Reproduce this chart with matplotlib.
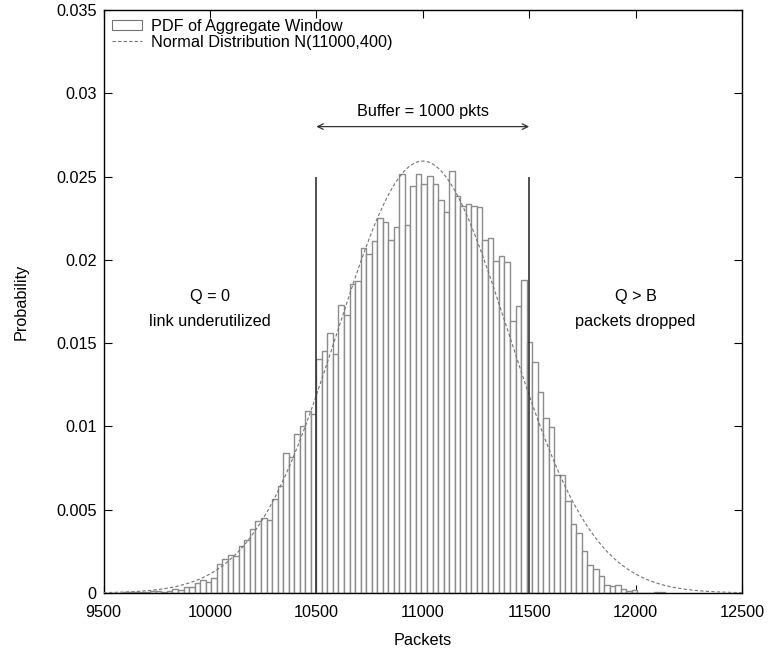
import numpy as np
import matplotlib
matplotlib.use("Agg")
import matplotlib.pyplot as plt
from matplotlib.patches import Patch
from matplotlib.lines import Line2D

plt.rcParams["font.family"] = ["Liberation Sans", "DejaVu Sans"]

# histogram of aggregate window (bins of 26 packets, first bin starts at 9538)
bin_start = 9538
bin_width = 26
prob = [
    0.00002, 0.00002, 0.00003, 0.00004, 0.00004, 0.00006, 0.00006, 0.00014,
    0.00012, 0.00008, 0.00012, 0.00022, 0.00018, 0.00034, 0.00038, 0.00062,
    0.00080, 0.00068, 0.00089, 0.00171, 0.00203, 0.00229, 0.00225, 0.00285,
    0.00319, 0.00383, 0.00430, 0.00452, 0.00440, 0.00562, 0.00642, 0.00842,
    0.00817, 0.00956, 0.01002, 0.01092, 0.01077,
    0.01404, 0.01454, 0.01558, 0.01434, 0.01731, 0.01671, 0.01855, 0.01871,
    0.02072, 0.02034, 0.02116, 0.02251, 0.02227, 0.02122, 0.02195, 0.02516,
    0.02207, 0.02442, 0.02516, 0.02458, 0.02504, 0.02454, 0.02361, 0.02287,
    0.02534, 0.02381, 0.02323, 0.02335, 0.02323, 0.02315, 0.02122, 0.02133,
    0.01996, 0.02026, 0.01990, 0.01634, 0.01725, 0.01880, 0.01508, 0.01384,
    0.01207, 0.01052, 0.00996, 0.00711, 0.00711, 0.00554, 0.00414, 0.00363,
    0.00253, 0.00169, 0.00143, 0.00100, 0.00050, 0.00040, 0.00050, 0.00026,
    0.00010, 0.00016, 0.0, 0.0, 0.0, 0.00005, 0.00003,
]

# normal distribution from the legend
mu = 11000
sigma = 400

buffer_lo = 10500
buffer_hi = 11500

fs = 11.7

left = bin_start + bin_width * np.arange(len(prob))

fig = plt.figure(figsize=(7.69, 6.54), dpi=100)
ax = fig.add_axes([0.1346, 0.0933, 0.8303, 0.8914])

ax.bar(left, prob, width=bin_width, align="edge", facecolor="white",
       edgecolor="0.55", linewidth=1.0, zorder=2)

xs = np.linspace(9500, 12500, 600)
pdf = bin_width * np.exp(-0.5 * ((xs - mu) / sigma) ** 2) / (sigma * np.sqrt(2 * np.pi))
ax.plot(xs, pdf, color="0.45", linestyle=(0, (3, 2)), linewidth=0.8, zorder=3)

# buffer limits
ax.vlines([buffer_lo, buffer_hi], 0, 0.025, color="0.2", linewidth=1.2, zorder=4)
ax.annotate("", xy=(buffer_lo, 0.028), xytext=(buffer_hi, 0.028),
            arrowprops=dict(arrowstyle="<->", color="0.2", lw=0.9,
                            shrinkA=0, shrinkB=0))
ax.text(11000, 0.0289, "Buffer = 1000 pkts", ha="center", va="center", fontsize=fs)

ax.text(10000, 0.0178, "Q = 0", ha="center", va="center", fontsize=fs)
ax.text(10000, 0.0163, "link underutilized", ha="center", va="center", fontsize=fs)
ax.text(12000, 0.0178, "Q > B", ha="center", va="center", fontsize=fs)
ax.text(12000, 0.0163, "packets dropped", ha="center", va="center", fontsize=fs)

ax.set_xlim(9500, 12500)
ax.set_ylim(0, 0.035)
ax.set_xticks(np.arange(9500, 12501, 500))
ax.set_yticks(np.arange(0, 0.0351, 0.005))
ax.set_yticklabels(["0", "0.005", "0.01", "0.015", "0.02", "0.025", "0.03", "0.035"])
ax.tick_params(axis="both", direction="in", length=6, width=0.8, top=True,
               right=True, labelsize=fs)
ax.tick_params(axis="x", pad=9)
ax.tick_params(axis="y", pad=5)
for s in ax.spines.values():
    s.set_linewidth(1.0)

ax.set_xlabel("Packets", fontsize=fs, labelpad=9)
ax.set_ylabel("Probability", fontsize=fs, labelpad=20)

handles = [
    Patch(facecolor="white", edgecolor="0.45", linewidth=0.8),
    Line2D([0], [0], color="0.45", linestyle=(0, (3, 2)), linewidth=0.8),
]
ax.legend(handles, ["PDF of Aggregate Window", "Normal Distribution N(11000,400)"],
          loc="upper left", frameon=False, fontsize=fs, handlelength=1.8,
          handleheight=0.6, borderaxespad=0.15, labelspacing=0.05,
          handletextpad=0.55)

fig.savefig("out.png", dpi=100)
